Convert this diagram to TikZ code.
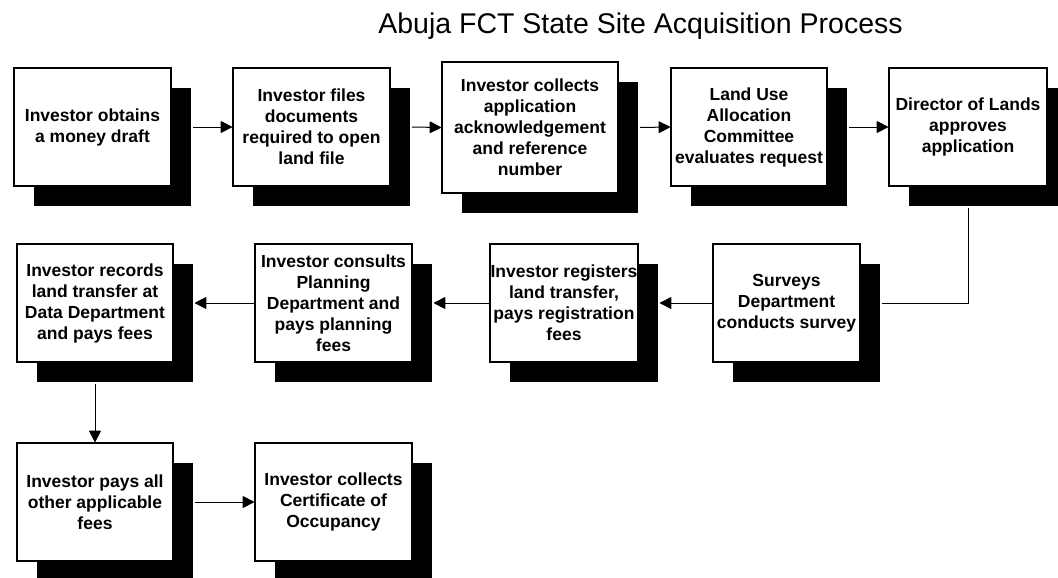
\documentclass[tikz,border=0pt]{standalone}
\usepackage{fontspec}
\setmainfont{Liberation Sans}
\usetikzlibrary{shadows,arrows.meta}

\tikzset{
  stepbox/.style={draw=black, line width=2pt, fill=white, inner sep=0pt,
    align=center, font=\bfseries\fontsize{17.5}{21}\selectfont,
    minimum height=118pt,
    drop shadow={shadow xshift=20pt, shadow yshift=-20pt, fill=black, opacity=1}},
  flow/.style={draw=black, line width=1pt, -{Triangle[length=12pt,width=12pt,round]}},
  plainlink/.style={draw=black, line width=1pt},
  heading/.style={font=\fontsize{28.5}{34}\selectfont, anchor=base, inner sep=0pt}
}

\begin{document}
\begin{tikzpicture}[x=1pt, y=1pt]
\clip (0,0) rectangle (1058,-578);
\fill[white] (0,0) rectangle (1058,-578);

\node[heading] (title) at (640.5,-34) {Abuja FCT State Site Acquisition Process};

% first row
\node[stepbox, minimum width=157pt] (b1) at (92.5,-127) {Investor obtains\\a money draft};
\node[stepbox, minimum width=157pt] (b2) at (311.5,-127) {Investor files\\documents\\required to open\\land file};
\node[stepbox, minimum width=176pt, minimum height=131pt] (b3) at (530,-127.5) {Investor collects\\application\\acknowledgement\\and reference\\number};
\node[stepbox, minimum width=156pt] (b4) at (749,-127) {Land Use\\Allocation\\Committee\\evaluates request};
\node[stepbox, minimum width=158pt] (b5) at (968,-127) {Director of Lands\\approves\\application};

% second row
\node[stepbox, minimum width=147pt] (b6) at (786.5,-303) {Surveys\\Department\\conducts survey};
\node[stepbox, minimum width=148pt] (b7) at (564,-303) {Investor registers\\land transfer,\\pays registration\\fees};
\node[stepbox, minimum width=157pt] (b8) at (333.5,-303) {Investor consults\\Planning\\Department and\\pays planning\\fees};
\node[stepbox, minimum width=156pt] (b9) at (95,-303) {Investor records\\land transfer at\\Data Department\\and pays fees};

% third row
\node[stepbox, minimum width=156pt] (b10) at (95,-502) {Investor pays all\\other applicable\\fees};
\node[stepbox, minimum width=157pt] (b11) at (333.5,-502) {Investor collects\\Certificate of\\Occupancy};

% connectors
\draw[flow] ([xshift=21pt]b1.east) -- (b2.west);
\draw[flow] ([xshift=21pt]b2.east) -- (b3.west);
\draw[flow] ([xshift=21pt]b3.east) -- (b4.west);
\draw[flow] ([xshift=21pt]b4.east) -- (b5.west);
\draw[plainlink] ([yshift=-21pt]b5.south) |- ([xshift=21pt]b6.east);
\draw[flow] (b6.west) -- ([xshift=21pt]b7.east);
\draw[flow] (b7.west) -- ([xshift=21pt]b8.east);
\draw[flow] (b8.west) -- ([xshift=21pt]b9.east);
\draw[flow] ([yshift=-21pt]b9.south) -- (b10.north);
\draw[flow] ([xshift=21pt]b10.east) -- (b11.west);
\end{tikzpicture}
\end{document}
